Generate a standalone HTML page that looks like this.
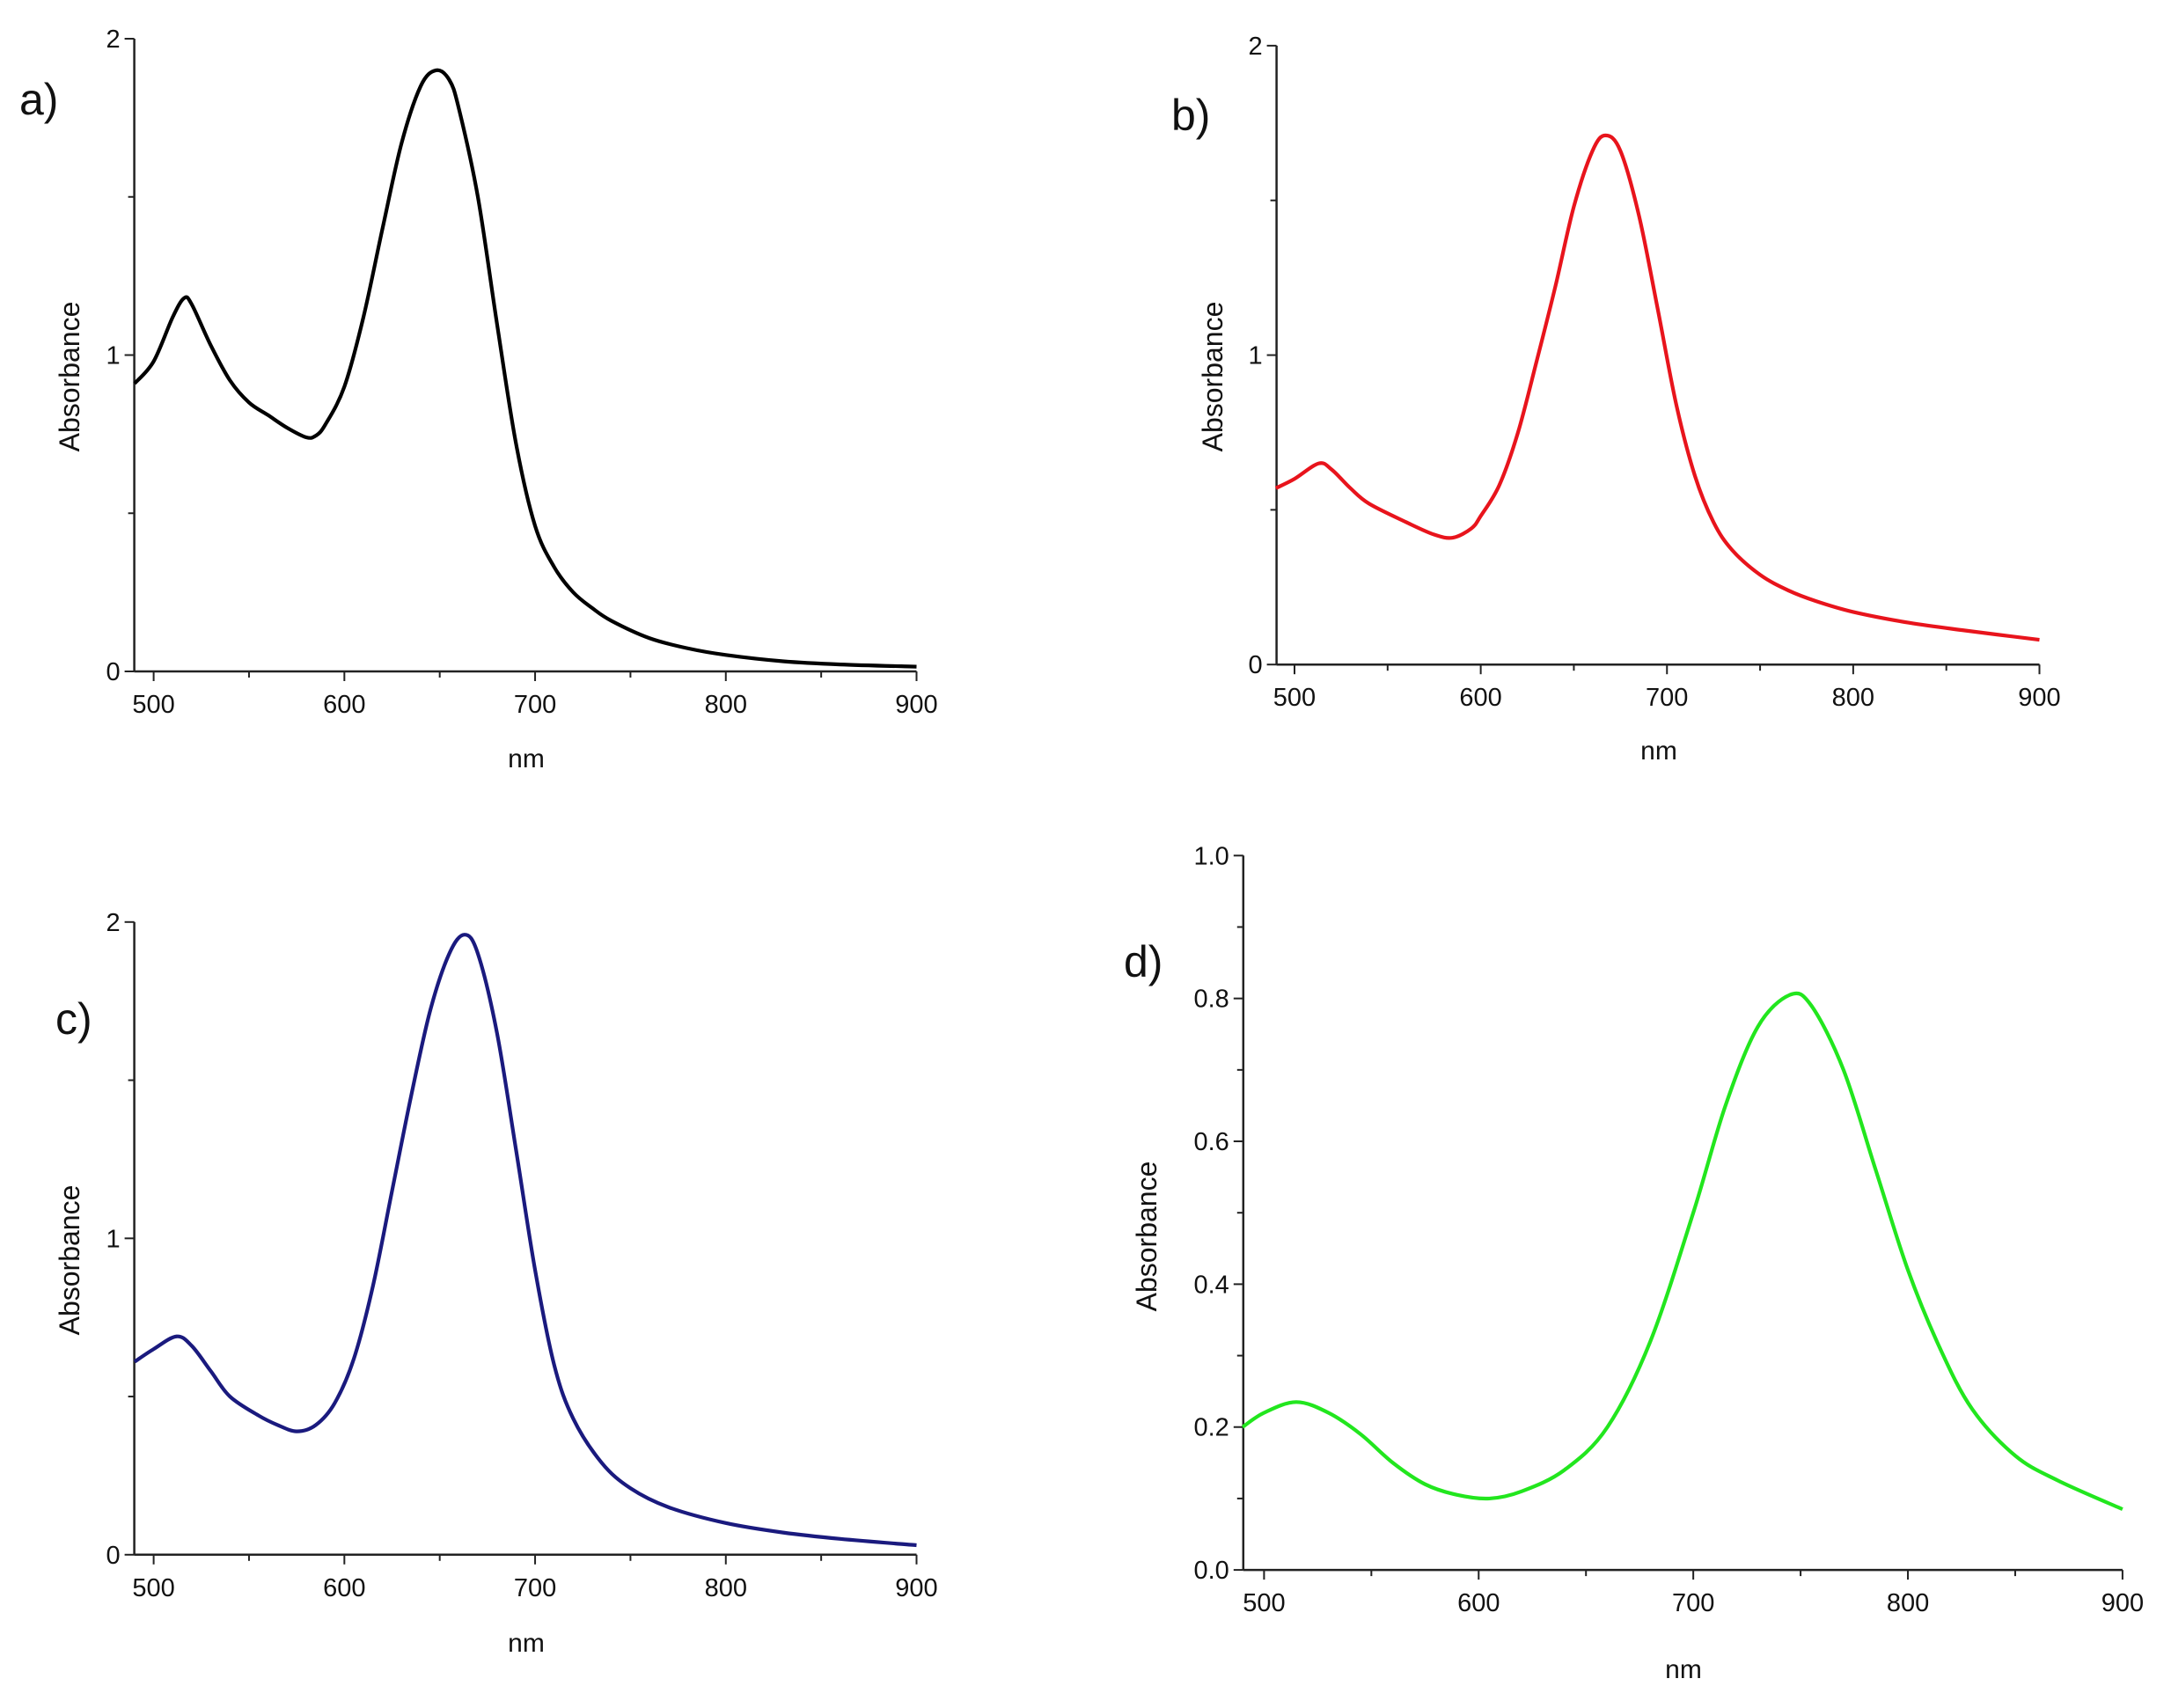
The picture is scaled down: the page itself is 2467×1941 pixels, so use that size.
<!DOCTYPE html>
<html><head><meta charset="utf-8"><style>
html,body{margin:0;padding:0;background:#fff;}
svg{display:block;font-family:"Liberation Sans",Arial,sans-serif;}
</style></head><body>
<svg id="fig" width="2467" height="1941" viewBox="0 0 2467 1941"></svg>
<script>
// Panel a (black)
const aWavelength = [490,500,510,516,520,530,540,550,560,570,580,585,590,600,610,620,630,640,648,655,660,670,680,690,700,710,720,730,740,760,780,800,830,860,900];
const aAbsorbance = [0.91,0.98,1.12,1.18,1.16,1.03,0.92,0.85,0.81,0.77,0.74,0.745,0.78,0.9,1.12,1.4,1.67,1.85,1.9,1.87,1.78,1.5,1.1,0.72,0.46,0.33,0.25,0.2,0.16,0.105,0.073,0.052,0.032,0.022,0.015];
// Panel b (red)
const bWavelength = [490,500,513,520,530,540,560,575,585,595,600,610,620,630,640,650,660,667,675,685,695,705,715,725,735,750,765,780,800,830,860,900];
const bAbsorbance = [0.57,0.6,0.65,0.63,0.57,0.52,0.46,0.42,0.41,0.44,0.48,0.58,0.75,0.98,1.22,1.48,1.66,1.71,1.66,1.45,1.15,0.84,0.61,0.46,0.37,0.29,0.24,0.205,0.17,0.135,0.11,0.08];
// Panel c (navy)
const cWavelength = [490,500,512,520,530,540,555,565,575,585,595,605,615,625,635,645,655,663,670,680,690,700,710,720,735,750,770,800,830,860,900];
const cAbsorbance = [0.61,0.65,0.69,0.66,0.58,0.5,0.44,0.41,0.39,0.41,0.48,0.62,0.85,1.15,1.45,1.72,1.9,1.96,1.9,1.65,1.28,0.9,0.6,0.43,0.29,0.21,0.15,0.1,0.07,0.05,0.03];
// Panel d (green)
const dWavelength = [490,500,515,530,545,560,575,590,605,620,640,660,680,700,715,730,745,755,770,785,800,815,830,850,870,900];
const dAbsorbance = [0.2,0.22,0.235,0.22,0.19,0.15,0.12,0.105,0.1,0.11,0.14,0.2,0.32,0.5,0.65,0.76,0.805,0.79,0.7,0.56,0.42,0.31,0.225,0.16,0.125,0.085];
const xTicks = [500,600,700,800,900];
const yTicksABC = [0,1,2];
const yLabelsABC = ["0","1","2"];
const yTicksD = [0,0.2,0.4,0.6,0.8,1.0];
const yLabelsD = ["0.0","0.2","0.4","0.6","0.8","1.0"];

const NS = "http://www.w3.org/2000/svg";
const svg = document.getElementById('fig');
function mk(tag, attrs, parent){const e=document.createElementNS(NS,tag);for(const k in attrs)e.setAttribute(k,attrs[k]);(parent||svg).appendChild(e);return e;}

const panels = [
 {id:'a',label:'a)',color:'#000000',xs:aWavelength,ys:aAbsorbance,ax:152.6,x500:174.6,x900:1041.5,y0:763,yTop:44,ymax:2,yt:yTicksABC,yl:yLabelsABC,minorY:0.5,lab:[22,130],yt2:[79,428],xt:[598,872]},
 {id:'b',label:'b)',color:'#e8141c',xs:bWavelength,ys:bAbsorbance,ax:1450.6,x500:1471,x900:2317.5,y0:755.2,yTop:51.9,ymax:2,yt:yTicksABC,yl:yLabelsABC,minorY:0.5,lab:[1331,148],yt2:[1378,428],xt:[1885,863]},
 {id:'c',label:'c)',color:'#1a1a7e',xs:cWavelength,ys:cAbsorbance,ax:152.6,x500:174.6,x900:1041.5,y0:1766.8,yTop:1047.8,ymax:2,yt:yTicksABC,yl:yLabelsABC,minorY:0.5,lab:[63,1175],yt2:[79,1432],xt:[598,1877]},
 {id:'d',label:'d)',color:'#22e61e',xs:dWavelength,ys:dAbsorbance,ax:1412.8,x500:1436.4,x900:2411.9,y0:1784.1,yTop:972.3,ymax:1,yt:yTicksD,yl:yLabelsD,minorY:0.1,lab:[1277,1110],yt2:[1303,1405],xt:[1913,1907]}
];

panels.forEach(p=>{
  const g = mk('g',{});
  
  
  const X = v => p.x500 + (v-500)*(p.x900-p.x500)/400;
  const Y = v => p.y0 - v*(p.y0-p.yTop)/p.ymax;
  const ya = mk('line',{x1:p.ax,y1:p.yTop,x2:p.ax,y2:p.y0,stroke:'#222','stroke-width':2.5},g);
  
  
  const xa = mk('line',{x1:p.ax,y1:p.y0,x2:p.x900,y2:p.y0,stroke:'#222','stroke-width':2.5},g);
  
  
  for(let v=500; v<=900; v+=50){
    const major = v%100===0;
    mk('line',{x1:X(v),y1:p.y0,x2:X(v),y2:p.y0+(major?11:7),stroke:'#222','stroke-width':2},g);
  }
  xTicks.forEach(v=>{
    const t = mk('text',{x:X(v),y:p.y0+47,'font-size':29,'text-anchor':'middle',fill:'#111'},g);
    t.textContent = v;
    
    
  });
  const nMinor = Math.round(p.ymax/p.minorY);
  for(let i=0;i<=nMinor;i++){
    const v=i*p.minorY;
    const major = p.yt.some(t=>Math.abs(t-v)<1e-6);
    mk('line',{x1:p.ax-(major?11:7),y1:Y(v),x2:p.ax,y2:Y(v),stroke:'#222','stroke-width':2},g);
  }
  p.yt.forEach((v,i)=>{
    const t = mk('text',{x:p.ax-16,y:Y(v)+10,'font-size':29,'text-anchor':'end',fill:'#111'},g);
    t.textContent = p.yl[i];
    
    
  });
  const yt = mk('text',{x:p.yt2[0],y:p.yt2[1],'font-size':32,'text-anchor':'middle',fill:'#111',transform:`rotate(-90 ${p.yt2[0]} ${p.yt2[1]})`,dy:11},g);
  yt.textContent='Absorbance';
  
  
  const xt = mk('text',{x:p.xt[0],y:p.xt[1],'font-size':30,'text-anchor':'middle',fill:'#111'},g);
  xt.textContent='nm';
  
  
  const lb = mk('text',{x:p.lab[0],y:p.lab[1],'font-size':50,fill:'#111'},g);
  lb.textContent=p.label;
  
  
  const pts = p.xs.map((v,i)=>[X(v),Y(p.ys[i])]);
  let d = `M${pts[0][0]},${pts[0][1]}`;
  for(let i=0;i<pts.length-1;i++){
    const p0=pts[Math.max(0,i-1)],p1=pts[i],p2=pts[i+1],p3=pts[Math.min(pts.length-1,i+2)];
    const c1=[p1[0]+(p2[0]-p0[0])/6,p1[1]+(p2[1]-p0[1])/6];
    const c2=[p2[0]-(p3[0]-p1[0])/6,p2[1]-(p3[1]-p1[1])/6];
    d+=` C${c1[0]},${c1[1]} ${c2[0]},${c2[1]} ${p2[0]},${p2[1]}`;
  }
  const path = mk('path',{d:d,fill:'none',stroke:p.color,'stroke-width':4.2,'stroke-linejoin':'round'},g);
  
  
});
</script>
</body></html>
